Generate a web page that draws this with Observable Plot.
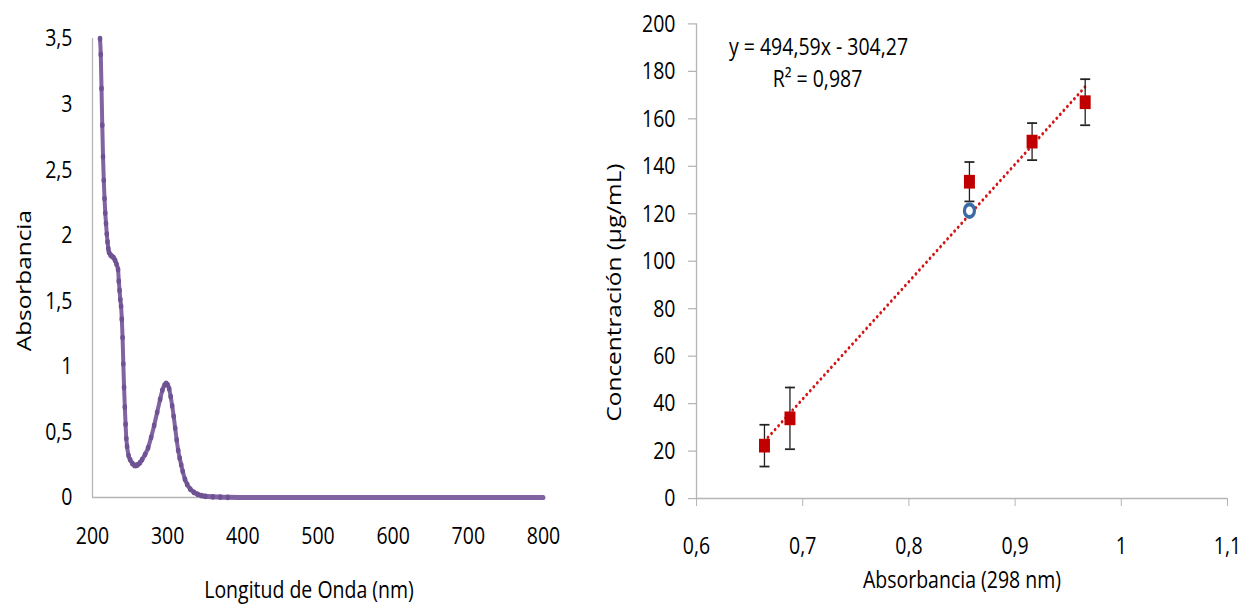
<!DOCTYPE html>
<html>
<head>
<meta charset="utf-8">
<script src="https://cdn.jsdelivr.net/npm/d3@7"></script>
<script src="https://cdn.jsdelivr.net/npm/@observablehq/plot@0.6"></script>
<style>
  body { margin: 0; background: #fff; }
  #wrap { position: relative; width: 1240px; height: 604px; overflow: hidden; }
  #left { position: absolute; left: 0; top: 0; }
  #right { position: absolute; left: 600px; top: 0; }
  /* the reference chart is a vertically stretched image */
  #wrap svg { transform: scale(1, 1.2505); transform-origin: 0 0; display: block; }
</style>
</head>
<body>
<div id="wrap"><div id="left"></div><div id="right"></div></div>
<script>
// ---- Left chart: UV-Vis spectrum ----
const wavelength = [210, 211, 212, 213, 214, 215, 216, 217, 218, 219, 220, 221, 222, 224, 226, 228, 230, 232, 234, 235, 236, 237, 238, 239, 240, 241, 242, 243, 244, 245, 246, 248, 250, 253, 256, 258, 260, 263, 266, 270, 274, 278, 282, 286, 290, 293, 296, 298, 300, 302, 304, 306, 308, 310, 312, 314, 316, 318, 320, 323, 326, 330, 335, 340, 345, 350, 360, 370, 380, 400, 450, 500, 550, 600, 650, 700, 750, 800];
const absorbance = [3.50, 3.38, 3.12, 2.84, 2.60, 2.42, 2.28, 2.17, 2.09, 2.01, 1.95, 1.90, 1.87, 1.85, 1.84, 1.83, 1.81, 1.78, 1.74, 1.65, 1.58, 1.51, 1.46, 1.36, 1.22, 1.02, 0.84, 0.69, 0.56, 0.45, 0.39, 0.32, 0.29, 0.26, 0.245, 0.245, 0.25, 0.265, 0.29, 0.33, 0.38, 0.46, 0.55, 0.65, 0.75, 0.82, 0.86, 0.87, 0.86, 0.83, 0.77, 0.70, 0.62, 0.53, 0.44, 0.36, 0.30, 0.25, 0.20, 0.14, 0.10, 0.065, 0.04, 0.025, 0.015, 0.01, 0.006, 0.004, 0.002, 0.001, 0, 0, 0, 0, 0, 0, 0, 0];
const leftXTicks = [200, 300, 400, 500, 600, 700, 800];
const leftYTicks = [0, 0.5, 1, 1.5, 2, 2.5, 3, 3.5];

// ---- Right chart: calibration ----
const calAbs = [0.664, 0.688, 0.857, 0.916, 0.966];
const calConc = [22.3, 33.8, 133.5, 150.4, 167.0];
const calErr = [8.8, 13.0, 8.3, 7.8, 9.7];
const sampleAbs = [0.857];
const sampleConc = [121.3];
const slope = 494.59;
const intercept = -304.27;
const equationText = "y = 494,59x - 304,27";
const r2Text = "R² = 0,987";
const rightXTicks = [0.6, 0.7, 0.8, 0.9, 1.0, 1.1];
const rightYTicks = [0, 20, 40, 60, 80, 100, 120, 140, 160, 180, 200];

const fmt = d => String(d).replace(".", ",");
const FONT = "'Open Sans', 'DejaVu Sans Condensed', sans-serif";
const FS = 19.5;
const AXIS_GRAY = "#b5b5b5";
const H = 483; // drawn height before the vertical stretch to 604px

const spectrum = wavelength.map((w, i) => ({w, a: absorbance[i]}));
const cal = calAbs.map((x, i) => ({x, y: calConc[i], lo: calConc[i] - calErr[i], hi: calConc[i] + calErr[i]}));
const sample = sampleAbs.map((x, i) => ({x, y: sampleConc[i]}));
const xMin = d3.min(calAbs), xMax = d3.max(calAbs);
const trend = [xMin, xMax].map(x => ({x, y: slope * x + intercept}));

const capSymbol = {
  draw(ctx, size) {
    const r = Math.sqrt(size / Math.PI);
    ctx.moveTo(-r, 0);
    ctx.lineTo(r, 0);
  }
};

const left = Plot.plot({
  width: 600, height: H,
  marginLeft: 92, marginRight: 57, marginTop: 30.4, marginBottom: 85.6,
  style: {fontFamily: FONT, color: "#000", background: "transparent"},
  x: {domain: [200, 800]},
  y: {domain: [0, 3.5]},
  marks: [
    Plot.ruleX([200], {stroke: AXIS_GRAY, strokeWidth: 1.3}),
    Plot.ruleY([0], {stroke: AXIS_GRAY, strokeWidth: 1.2}),
    Plot.axisX(leftXTicks, {label: null, tickSize: 0, tickPadding: 23, tickFormat: fmt, fontSize: FS, fill: "#000"}),
    Plot.axisY(leftYTicks, {label: null, tickSize: 0, tickPadding: 20, tickFormat: fmt, fontSize: FS, fill: "#000"}),
    Plot.line(spectrum, {x: "w", y: "a", stroke: "#8064a2", strokeWidth: 4, curve: "monotone-x"}),
    Plot.dot(spectrum.filter(d => d.w < 400), {x: "w", y: "a", r: 2.3, fill: "#6f5293"}),
    Plot.text(["Absorbancia"], {frameAnchor: "left", textAnchor: "middle", rotate: -90, dx: -68, dy: 10, fontSize: FS, fill: "#000"}),
    Plot.text(["Longitud de Onda (nm)"], {frameAnchor: "bottom", textAnchor: "middle", lineAnchor: "middle", dx: -9, dy: 74.4, fontSize: FS, fill: "#000"})
  ]
});
document.getElementById("left").append(left);

const right = Plot.plot({
  width: 640, height: H,
  marginLeft: 96, marginRight: 13, marginTop: 18.6, marginBottom: 84.8,
  style: {fontFamily: FONT, color: "#000", background: "transparent"},
  x: {domain: [0.6, 1.1]},
  y: {domain: [0, 200]},
  marks: [
    Plot.ruleX([0.6], {stroke: AXIS_GRAY, strokeWidth: 1.3}),
    Plot.ruleY([0], {stroke: AXIS_GRAY, strokeWidth: 1.2}),
    Plot.axisX(rightXTicks, {label: null, tickSize: 6.4, tickPadding: 24, tickFormat: fmt, fontSize: FS, stroke: AXIS_GRAY, fill: "#000"}),
    Plot.axisY(rightYTicks, {label: null, tickSize: 8, tickPadding: 13, tickFormat: fmt, fontSize: FS, stroke: AXIS_GRAY, fill: "#000"}),
    Plot.line(trend, {x: "x", y: "y", stroke: "#d41414", strokeWidth: 2.6, strokeDasharray: "0.1,4.6", strokeLinecap: "round"}),
    Plot.ruleX(cal, {x: "x", y1: "lo", y2: "hi", stroke: "#222", strokeWidth: 1.3}),
    Plot.dot(cal, {x: "x", y: "lo", symbol: capSymbol, r: 5, stroke: "#222", strokeWidth: 1.4, fill: "none"}),
    Plot.dot(cal, {x: "x", y: "hi", symbol: capSymbol, r: 5, stroke: "#222", strokeWidth: 1.4, fill: "none"}),
    Plot.dot(cal, {x: "x", y: "y", symbol: "square", r: 6.2, fill: "#c00000", stroke: "none"}),
    Plot.dot(sample, {x: "x", y: "y", r: 5, fill: "#fff", stroke: "#3a6ba5", strokeWidth: 3.2}),
    Plot.text([equationText], {frameAnchor: "top-left", textAnchor: "middle", lineAnchor: "middle", dx: 122, dy: 18.7, fontSize: FS, fill: "#000"}),
    Plot.text([r2Text], {frameAnchor: "top-left", textAnchor: "middle", lineAnchor: "middle", dx: 121, dy: 44, fontSize: FS, fill: "#000"}),
    Plot.text(["Concentración (µg/mL)"], {frameAnchor: "left", textAnchor: "middle", rotate: -90, dx: -82, dy: 25, fontSize: FS, fill: "#000"}),
    Plot.text(["Absorbancia (298 nm)"], {frameAnchor: "bottom", textAnchor: "middle", lineAnchor: "middle", dy: 65.6, fontSize: FS, fill: "#000"})
  ]
});
document.getElementById("right").append(right);
</script>
</body>
</html>
